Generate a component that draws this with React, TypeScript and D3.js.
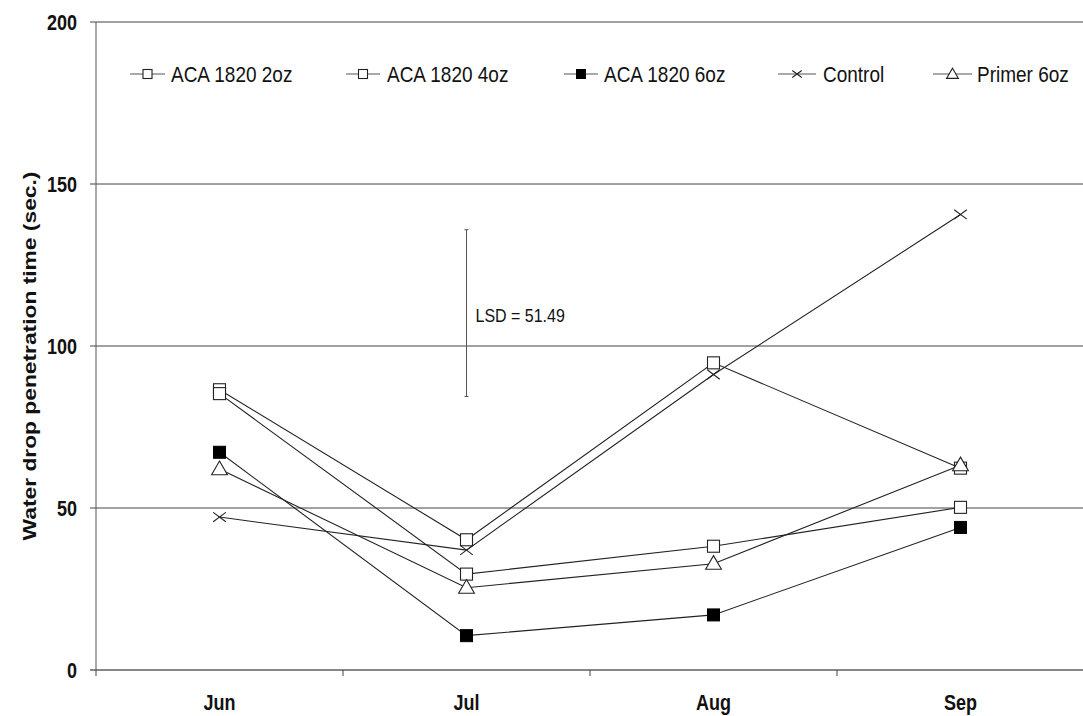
import React from "react";
import * as d3 from "d3";

// Sampling months and the measured penetration times (seconds)
const months = ["Jun", "Jul", "Aug", "Sep"];
const aca2oz = [86.5, 40.2, 94.8, 62.3];
const aca4oz = [85.3, 29.6, 38.2, 50.2];
const aca6oz = [67.2, 10.6, 17.0, 44.0];
const control = [47.2, 37.0, 91.2, 140.6];
const primer6oz = [62.0, 25.4, 32.8, 63.2];
const yTicks = [0, 50, 100, 150, 200];
const lsdValue = 51.49;
const lsdBase = 84.4;

type Marker = "openSquare" | "filledSquare" | "cross" | "triangle";

const seriesList: { name: string; values: number[]; marker: Marker }[] = [
  { name: "ACA 1820 2oz", values: aca2oz, marker: "openSquare" },
  { name: "ACA 1820 4oz", values: aca4oz, marker: "openSquare" },
  { name: "ACA 1820 6oz", values: aca6oz, marker: "filledSquare" },
  { name: "Control", values: control, marker: "cross" },
  { name: "Primer 6oz", values: primer6oz, marker: "triangle" },
];

// Legend entry placement (line start, line end, text start)
const legendSlots = [
  { x0: 130, x1: 165, tx: 171 },
  { x0: 346, x1: 380, tx: 387 },
  { x0: 564, x1: 598, tx: 604 },
  { x0: 778, x1: 816, tx: 823 },
  { x0: 933, x1: 972, tx: 977 },
];

const W = 1083;
const H = 716;
const left = 96;
const right = 1084;
const top = 22;
const bottom = 670;

const FONT = "'Liberation Sans', Arial, Helvetica, sans-serif";
const INK = "#222";
// Text is drawn slightly taller than wide (condensed look)
const STRETCH = 1.2;

function Label({
  x,
  y,
  children,
  size,
  bold,
  anchor,
}: {
  x: number;
  y: number;
  children: React.ReactNode;
  size: number;
  bold?: boolean;
  anchor?: "start" | "middle" | "end";
}) {
  return (
    <text
      transform={`translate(${x},${y}) scale(1,${STRETCH})`}
      textAnchor={anchor ?? "start"}
      fontWeight={bold ? "bold" : "normal"}
      fontSize={size}
      fill="#111"
    >
      {children}
    </text>
  );
}

function MarkerShape({ kind, cx, cy, size }: { kind: Marker; cx: number; cy: number; size: number }) {
  const h = size / 2;
  if (kind === "openSquare") {
    return <rect x={cx - h} y={cy - h} width={size} height={size} fill="#fff" stroke={INK} strokeWidth={1.1} />;
  }
  if (kind === "filledSquare") {
    return <rect x={cx - h} y={cy - h} width={size} height={size} fill="#000" stroke="#000" strokeWidth={1} />;
  }
  if (kind === "cross") {
    const c = h * 1.05;
    return (
      <g stroke={INK} strokeWidth={1.1}>
        <line x1={cx - c} y1={cy - c * 0.75} x2={cx + c} y2={cy + c * 0.75} />
        <line x1={cx - c} y1={cy + c * 0.75} x2={cx + c} y2={cy - c * 0.75} />
      </g>
    );
  }
  const t = d3.symbol(d3.symbolTriangle, size * size * 0.75)();
  return <path d={t as string} transform={`translate(${cx},${cy + 1})`} fill="#fff" stroke={INK} strokeWidth={1.1} />;
}

export default function App() {
  const x = d3.scaleBand<string>().domain(months).range([left, right]).paddingInner(0).paddingOuter(0);
  const y = d3.scaleLinear().domain([0, 200]).range([bottom, top]);
  const cx = (m: string) => (x(m) as number) + x.bandwidth() / 2;

  const line = d3
    .line<number>()
    .x((_, i) => cx(months[i]))
    .y((v) => y(v));

  const boundaries = months.map((m) => x(m) as number);
  const lsdX = cx("Jul");

  return (
    <svg
      width={W}
      height={H}
      style={{ position: "absolute", left: 0, top: 0, background: "#fff" }}
      fontFamily={FONT}
    >
      <rect x={0} y={0} width={W} height={H} fill="#fff" />

      {/* horizontal gridlines */}
      {yTicks.map((t) => (
        <line key={t} x1={left - 6} x2={W} y1={y(t)} y2={y(t)} stroke={t === 0 ? "#111" : "#444"} strokeWidth={1} />
      ))}

      {/* y axis */}
      <line x1={left} x2={left} y1={top} y2={bottom} stroke="#555" strokeWidth={1} />
      {yTicks.map((t) => (
        <Label key={t} x={77} y={y(t) + 7.7} anchor="end" bold size={18}>
          {t}
        </Label>
      ))}
      <text
        transform={`translate(36,356) rotate(-90) scale(${STRETCH},1)`}
        textAnchor="middle"
        fontWeight="bold"
        fontSize={19}
        fill="#111"
      >
        Water drop penetration time (sec.)
      </text>

      {/* x axis category boundaries and labels */}
      {boundaries.map((b, i) => (
        <line key={i} x1={b} x2={b} y1={bottom} y2={bottom + 6} stroke="#444" strokeWidth={1} />
      ))}
      {months.map((m) => (
        <Label key={m} x={cx(m)} y={710} anchor="middle" bold size={18}>
          {m}
        </Label>
      ))}

      {/* LSD bar */}
      <g stroke="#555" strokeWidth={1}>
        <line x1={lsdX} x2={lsdX} y1={y(lsdBase)} y2={y(lsdBase + lsdValue)} />
        <line x1={lsdX - 2} x2={lsdX + 2} y1={y(lsdBase)} y2={y(lsdBase)} />
        <line x1={lsdX - 2} x2={lsdX + 2} y1={y(lsdBase + lsdValue)} y2={y(lsdBase + lsdValue)} />
      </g>
      <Label x={lsdX + 9} y={322} size={16}>
        {`LSD = ${lsdValue}`}
      </Label>

      {/* series lines */}
      {seriesList.map((s) => (
        <path key={s.name} d={line(s.values) as string} fill="none" stroke={INK} strokeWidth={1.1} />
      ))}
      {/* series markers */}
      {seriesList.map((s) => (
        <g key={s.name + "-m"}>
          {s.values.map((v, i) => (
            <MarkerShape key={i} kind={s.marker} cx={cx(months[i])} cy={y(v)} size={12} />
          ))}
        </g>
      ))}

      {/* legend */}
      {seriesList.map((s, i) => {
        const slot = legendSlots[i];
        const my = 74;
        return (
          <g key={s.name + "-leg"}>
            <line x1={slot.x0} x2={slot.x1} y1={my} y2={my} stroke="#555" strokeWidth={1} />
            <MarkerShape kind={s.marker} cx={(slot.x0 + slot.x1) / 2} cy={my} size={9} />
            <Label x={slot.tx} y={my + 8} size={19}>
              {s.name}
            </Label>
          </g>
        );
      })}
    </svg>
  );
}
